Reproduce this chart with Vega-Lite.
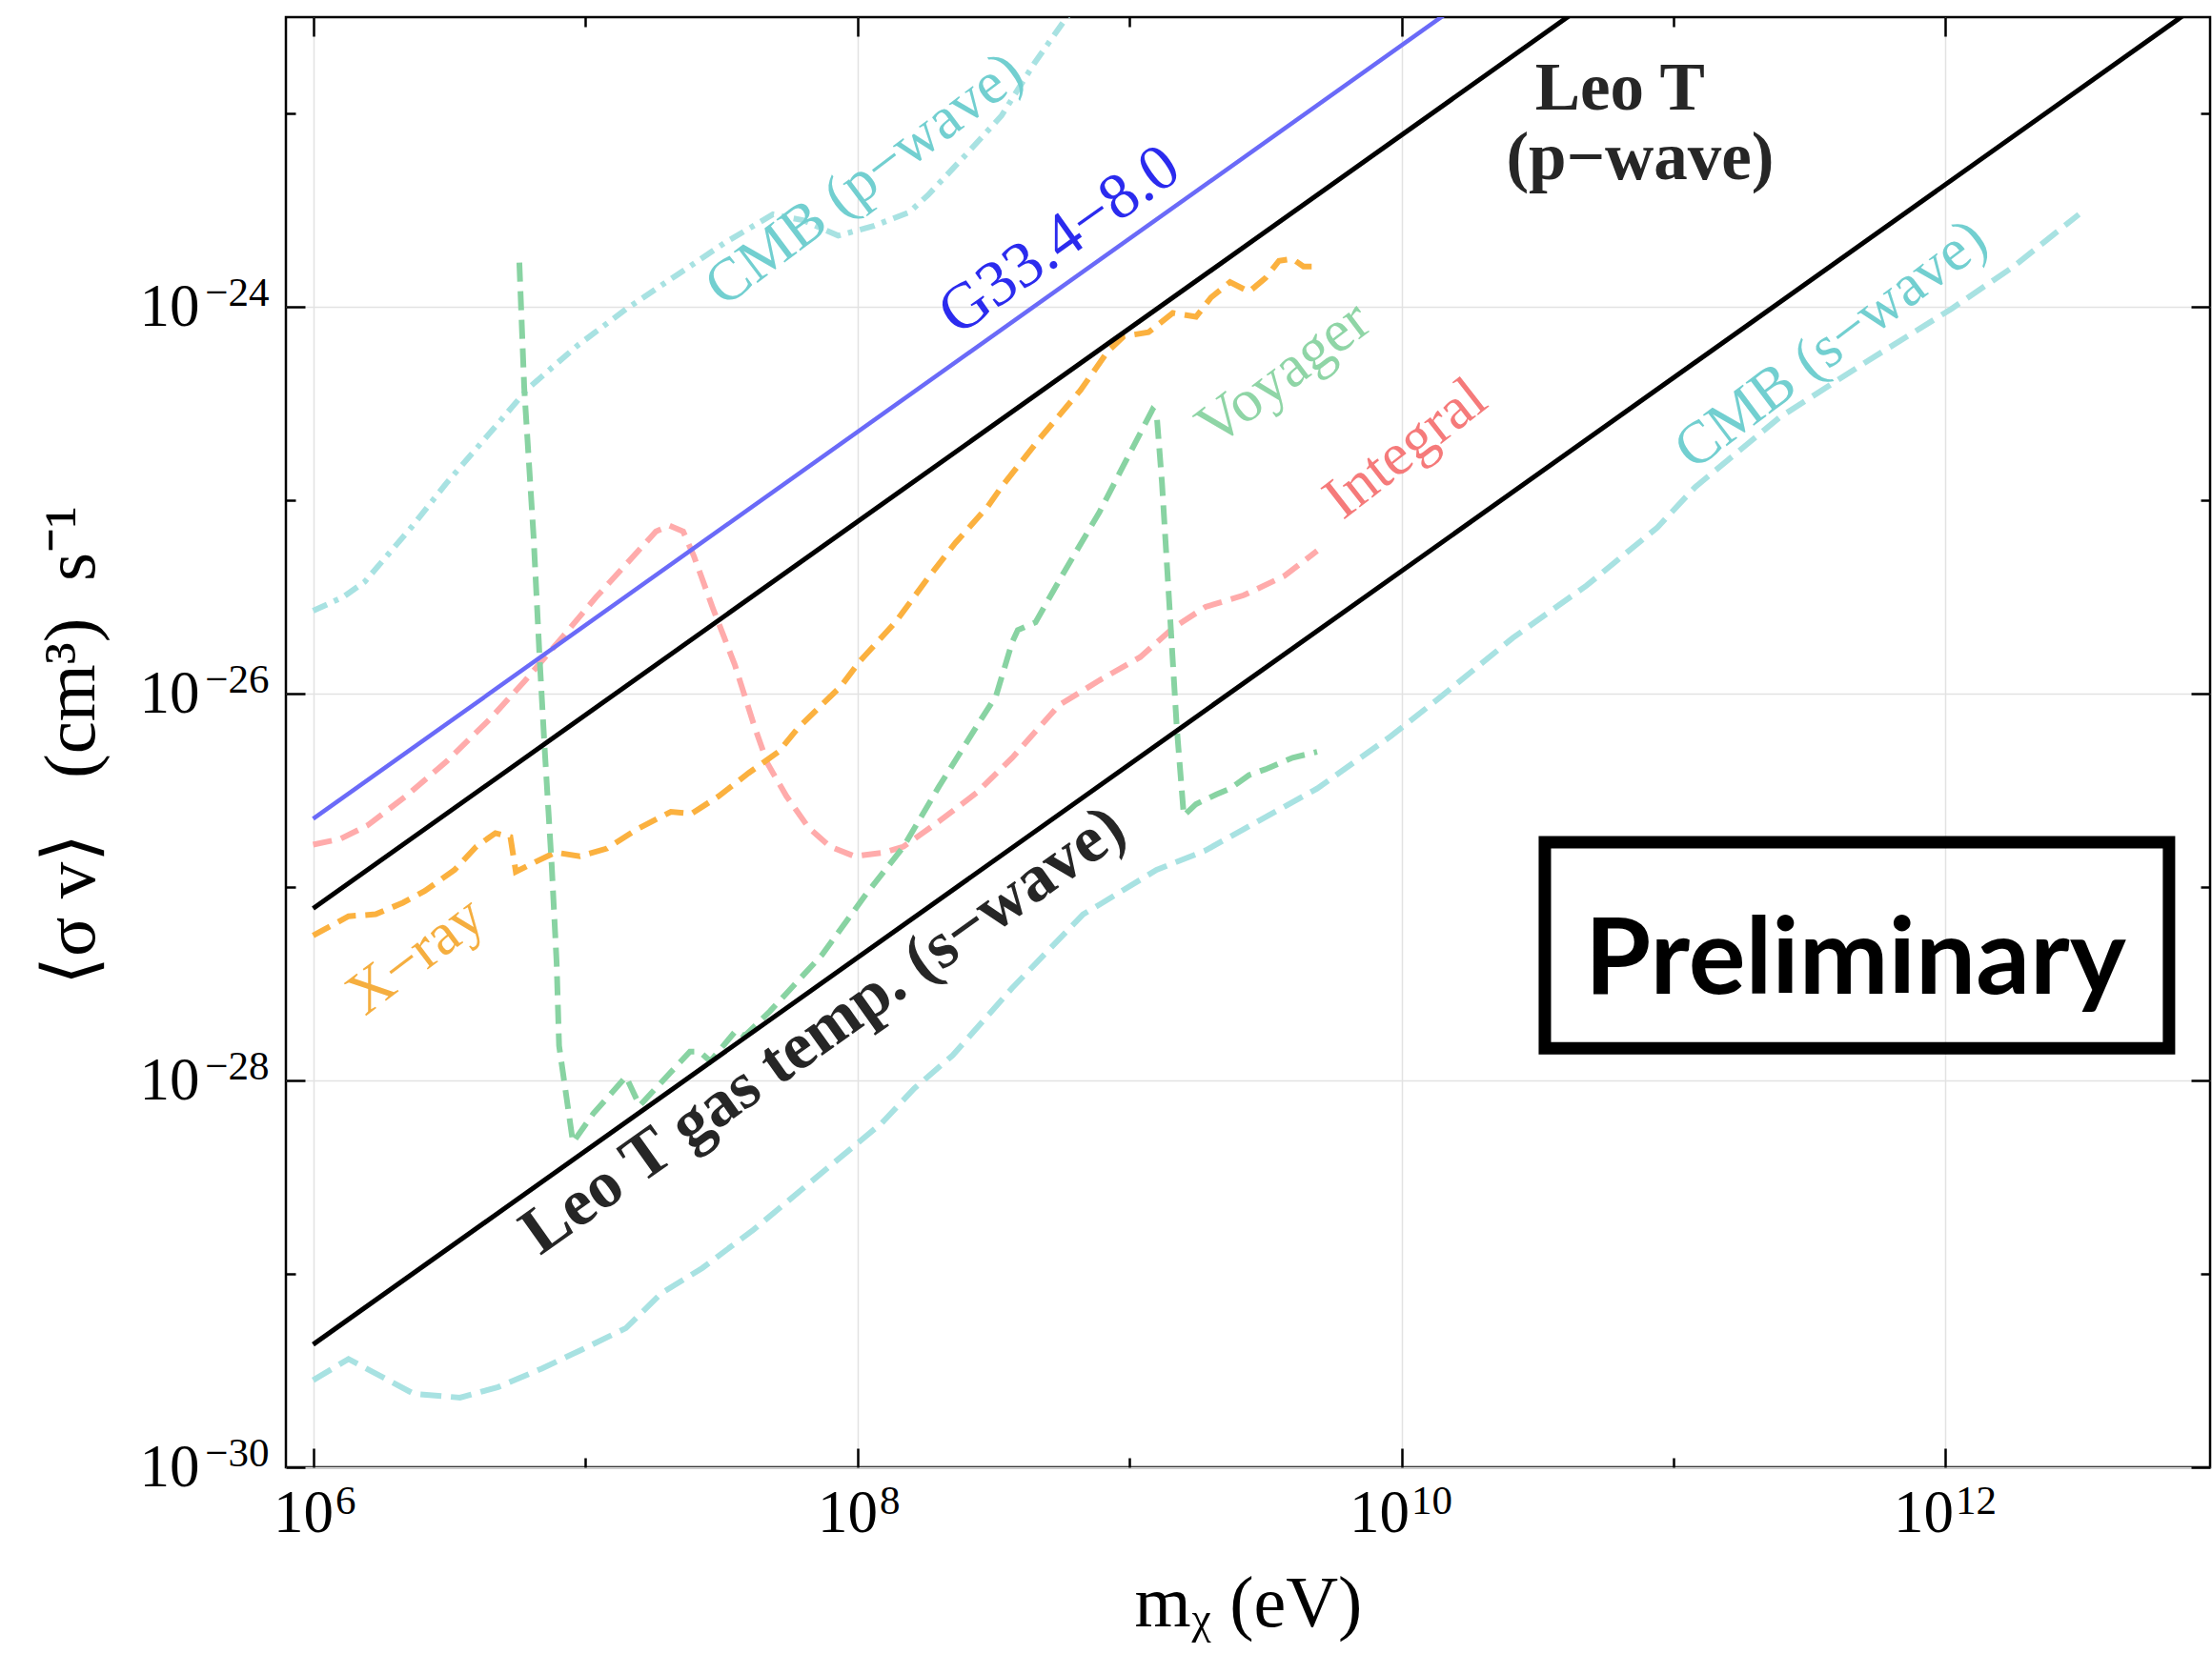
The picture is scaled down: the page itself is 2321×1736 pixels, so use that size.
{
  "$schema": "https://vega.github.io/schema/vega-lite/v6.json",
  "width": 2019,
  "height": 1522,
  "autosize": {"type": "none"},
  "padding": {"left": 300, "top": 18, "right": 2, "bottom": 196},
  "background": "white",
  "config": {"view": {"stroke": "#000", "strokeWidth": 2.5}, "font": "Liberation Serif"},
  "datasets": {
    "cmb_s": [
      {"m": 1e6, "sv": 2.818e-30}, {"m": 1.349e6, "sv": 3.631e-30}, {"m": 2.344e6, "sv": 2.399e-30},
      {"m": 3.467e6, "sv": 2.291e-30}, {"m": 4.786e6, "sv": 2.6e-30}, {"m": 6.918e6, "sv": 3.236e-30},
      {"m": 9.772e6, "sv": 4.074e-30}, {"m": 1.413e7, "sv": 5.248e-30}, {"m": 1.905e7, "sv": 7.943e-30},
      {"m": 2.692e7, "sv": 1.072e-29}, {"m": 4.169e7, "sv": 1.698e-29}, {"m": 7.079e7, "sv": 3.162e-29},
      {"m": 1.23e8, "sv": 6.026e-29}, {"m": 1.622e8, "sv": 9.12e-29}, {"m": 2.239e8, "sv": 1.349e-28},
      {"m": 3.715e8, "sv": 3.02e-28}, {"m": 6.761e8, "sv": 7.244e-28}, {"m": 7.762e8, "sv": 8.128e-28},
      {"m": 1.259e9, "sv": 1.23e-27}, {"m": 1.905e9, "sv": 1.549e-27}, {"m": 2.63e9, "sv": 1.995e-27},
      {"m": 4.898e9, "sv": 3.236e-27}, {"m": 9.12e9, "sv": 6.026e-27}, {"m": 1.38e10, "sv": 9.55e-27},
      {"m": 2.57e10, "sv": 1.95e-26}, {"m": 4.786e10, "sv": 3.631e-26}, {"m": 8.71e10, "sv": 7.244e-26},
      {"m": 1.202e11, "sv": 1.175e-25}, {"m": 2.455e11, "sv": 2.692e-25}, {"m": 5.012e11, "sv": 5.129e-25},
      {"m": 1.047e12, "sv": 9.772e-25}, {"m": 1.778e12, "sv": 1.622e-24}, {"m": 3.09e12, "sv": 3.02e-24}
    ],
    "cmb_p": [
      {"m": 1e6, "sv": 2.692e-26}, {"m": 1.288e6, "sv": 3.162e-26}, {"m": 1.549e6, "sv": 3.802e-26},
      {"m": 2.291e6, "sv": 7.244e-26}, {"m": 3.09e6, "sv": 1.23e-25}, {"m": 4.467e6, "sv": 2.239e-25},
      {"m": 6.166e6, "sv": 3.802e-25}, {"m": 9.333e6, "sv": 6.31e-25}, {"m": 1.413e7, "sv": 9.772e-25},
      {"m": 2.138e7, "sv": 1.445e-24}, {"m": 3.236e7, "sv": 2.138e-24}, {"m": 4.898e7, "sv": 3.02e-24},
      {"m": 6.31e7, "sv": 2.818e-24}, {"m": 8.511e7, "sv": 2.344e-24}, {"m": 1.148e8, "sv": 2.63e-24},
      {"m": 1.549e8, "sv": 3.09e-24}, {"m": 1.82e8, "sv": 3.802e-24}, {"m": 2.512e8, "sv": 6.166e-24},
      {"m": 3.388e8, "sv": 9.772e-24}, {"m": 4.467e8, "sv": 1.82e-23}, {"m": 5.012e8, "sv": 2.291e-23},
      {"m": 6.31e8, "sv": 3.631e-23}
    ],
    "integral": [
      {"m": 1e6, "sv": 1.66e-27}, {"m": 1.259e6, "sv": 1.778e-27}, {"m": 1.585e6, "sv": 2.089e-27},
      {"m": 2.188e6, "sv": 2.951e-27}, {"m": 3.09e6, "sv": 4.467e-27}, {"m": 4.467e6, "sv": 7.413e-27},
      {"m": 6.026e6, "sv": 1.175e-26}, {"m": 8.318e6, "sv": 1.995e-26}, {"m": 1.096e7, "sv": 3.162e-26},
      {"m": 1.413e7, "sv": 4.677e-26}, {"m": 1.82e7, "sv": 6.918e-26}, {"m": 2.042e7, "sv": 7.413e-26},
      {"m": 2.291e7, "sv": 6.918e-26}, {"m": 2.512e7, "sv": 5.129e-26}, {"m": 2.951e7, "sv": 2.754e-26},
      {"m": 3.548e7, "sv": 1.413e-26}, {"m": 4.169e7, "sv": 6.918e-27}, {"m": 4.677e7, "sv": 4.365e-27},
      {"m": 5.495e7, "sv": 2.951e-27}, {"m": 6.607e7, "sv": 2.042e-27}, {"m": 7.943e7, "sv": 1.622e-27},
      {"m": 9.772e7, "sv": 1.445e-27}, {"m": 1.259e8, "sv": 1.514e-27}, {"m": 1.479e8, "sv": 1.622e-27},
      {"m": 1.995e8, "sv": 2.188e-27}, {"m": 2.754e8, "sv": 3.09e-27}, {"m": 3.715e8, "sv": 4.677e-27},
      {"m": 5.495e8, "sv": 8.71e-27}, {"m": 7.762e8, "sv": 1.175e-26}, {"m": 1.096e9, "sv": 1.549e-26},
      {"m": 1.445e9, "sv": 2.188e-26}, {"m": 1.905e9, "sv": 2.818e-26}, {"m": 2.63e9, "sv": 3.236e-26},
      {"m": 3.715e9, "sv": 4.074e-26}, {"m": 4.898e9, "sv": 5.495e-26}
    ],
    "xray": [
      {"m": 1e6, "sv": 5.623e-28}, {"m": 1.349e6, "sv": 7.079e-28}, {"m": 1.698e6, "sv": 7.244e-28},
      {"m": 2.138e6, "sv": 8.318e-28}, {"m": 2.57e6, "sv": 9.55e-28}, {"m": 3.311e6, "sv": 1.23e-27},
      {"m": 3.981e6, "sv": 1.622e-27}, {"m": 4.677e6, "sv": 1.905e-27}, {"m": 5.309e6, "sv": 1.82e-27},
      {"m": 5.559e6, "sv": 1.202e-27}, {"m": 6.761e6, "sv": 1.38e-27}, {"m": 7.762e6, "sv": 1.514e-27},
      {"m": 9.55e6, "sv": 1.445e-27}, {"m": 1.202e7, "sv": 1.585e-27}, {"m": 1.549e7, "sv": 1.995e-27},
      {"m": 2.065e7, "sv": 2.455e-27}, {"m": 2.455e7, "sv": 2.399e-27}, {"m": 3.09e7, "sv": 2.951e-27},
      {"m": 3.981e7, "sv": 3.89e-27}, {"m": 5.129e7, "sv": 5.012e-27}, {"m": 6.026e7, "sv": 6.607e-27},
      {"m": 8.71e7, "sv": 1.096e-26}, {"m": 1.023e8, "sv": 1.479e-26}, {"m": 1.38e8, "sv": 2.344e-26},
      {"m": 1.82e8, "sv": 3.981e-26}, {"m": 2.291e8, "sv": 6.026e-26}, {"m": 3.02e8, "sv": 9.333e-26},
      {"m": 3.388e8, "sv": 1.175e-25}, {"m": 4.677e8, "sv": 2.089e-25}, {"m": 6.607e8, "sv": 3.715e-25},
      {"m": 8.318e8, "sv": 5.888e-25}, {"m": 9.55e8, "sv": 7.079e-25}, {"m": 1.175e9, "sv": 7.413e-25},
      {"m": 1.445e9, "sv": 9.333e-25}, {"m": 1.758e9, "sv": 8.913e-25}, {"m": 1.995e9, "sv": 1.122e-24},
      {"m": 2.344e9, "sv": 1.349e-24}, {"m": 2.754e9, "sv": 1.202e-24}, {"m": 3.162e9, "sv": 1.413e-24},
      {"m": 3.548e9, "sv": 1.738e-24}, {"m": 3.981e9, "sv": 1.778e-24}, {"m": 4.365e9, "sv": 1.622e-24},
      {"m": 4.677e9, "sv": 1.622e-24}
    ],
    "voyager": [
      {"m": 5.728e6, "sv": 1.698e-24}, {"m": 5.97e6, "sv": 3.802e-25}, {"m": 6.457e6, "sv": 6.607e-26},
      {"m": 6.808e6, "sv": 1.479e-26}, {"m": 7.079e6, "sv": 5.495e-27}, {"m": 7.534e6, "sv": 1.288e-27},
      {"m": 7.852e6, "sv": 4.074e-28}, {"m": 8.017e6, "sv": 1.514e-28}, {"m": 9.016e6, "sv": 4.786e-29},
      {"m": 1.072e7, "sv": 6.761e-29}, {"m": 1.413e7, "sv": 1.047e-28}, {"m": 1.585e7, "sv": 7.413e-29},
      {"m": 2.427e7, "sv": 1.413e-28}, {"m": 2.63e7, "sv": 1.413e-28}, {"m": 2.884e7, "sv": 1.259e-28},
      {"m": 3.589e7, "sv": 1.82e-28}, {"m": 3.846e7, "sv": 1.698e-28}, {"m": 4.786e7, "sv": 2.291e-28},
      {"m": 7.413e7, "sv": 4.467e-28}, {"m": 1.072e8, "sv": 9.12e-28}, {"m": 1.479e8, "sv": 1.622e-27},
      {"m": 1.995e8, "sv": 3.311e-27}, {"m": 2.63e8, "sv": 6.166e-27}, {"m": 3.236e8, "sv": 9.772e-27},
      {"m": 3.715e8, "sv": 1.862e-26}, {"m": 3.89e8, "sv": 2.138e-26}, {"m": 4.519e8, "sv": 2.344e-26},
      {"m": 5.754e8, "sv": 4.266e-26}, {"m": 7.762e8, "sv": 8.71e-26}, {"m": 1e9, "sv": 1.738e-25},
      {"m": 1.216e9, "sv": 2.951e-25}, {"m": 1.259e9, "sv": 2.818e-25}, {"m": 1.318e9, "sv": 1.23e-25},
      {"m": 1.403e9, "sv": 2.884e-26}, {"m": 1.493e9, "sv": 6.761e-27}, {"m": 1.585e9, "sv": 2.344e-27},
      {"m": 1.758e9, "sv": 2.692e-27}, {"m": 2.089e9, "sv": 3.02e-27}, {"m": 2.344e9, "sv": 3.236e-27},
      {"m": 2.754e9, "sv": 3.802e-27}, {"m": 3.162e9, "sv": 4.074e-27}, {"m": 3.981e9, "sv": 4.677e-27},
      {"m": 4.898e9, "sv": 5.012e-27}
    ],
    "g33": [{"m": 1e6, "sv": 2.259e-27}, {"m": 1.995e10, "sv": 4.508e-23}],
    "leo_p": [{"m": 1e6, "sv": 7.762e-28}, {"m": 6.31e10, "sv": 4.898e-23}],
    "leo_s": [{"m": 1e6, "sv": 4.315e-30}, {"m": 1e13, "sv": 4.315e-23}],
    "box": [{"m": 3.365e10, "m2": 6.622e12, "sv": 1.706e-27, "sv2": 1.469e-28}],
    "labels": [
      {"id": "leoT1", "label": "Leo T", "m": 6.353e10, "sv": 1.057e-23},
      {"id": "leoT2", "label": "(p−wave)", "m": 7.534e10, "sv": 4.613e-24},
      {"id": "leoS", "label": "Leo T gas temp. (s−wave)", "m": 7.499e7, "sv": 1.82e-28},
      {"id": "g33", "label": "G33.4−8.0", "m": 5.546e8, "sv": 2.208e-24},
      {"id": "cmbp", "label": "CMB (p−wave)", "m": 1.062e8, "sv": 4.571e-24},
      {"id": "cmbs", "label": "CMB (s−wave)", "m": 3.793e11, "sv": 6.397e-25},
      {"id": "voy", "label": "Voyager", "m": 3.69e9, "sv": 4.539e-25},
      {"id": "int", "label": "Integral", "m": 1.033e10, "sv": 1.849e-25},
      {"id": "xray", "label": "X−ray", "m": 2.382e6, "sv": 4.416e-28},
      {"id": "prelim", "label": "Preliminary", "m": 4.667e11, "sv": 2.805e-28}
    ]
  },
  "encoding": {
    "x": {"field": "m", "type": "quantitative", "scale": {"type": "log", "domain": [794328, 9.376e12], "nice": false}, "axis": null},
    "y": {"field": "sv", "type": "quantitative", "scale": {"type": "log", "domain": [1e-30, 3.162e-23], "nice": false}, "axis": null}
  },
  "layer": [
    {
      "data": {"name": "cmb_s"},
      "mark": {"type": "line", "color": "#a8e2e2", "strokeWidth": 6, "strokeDash": [22, 10], "clip": true},
      "encoding": {
        "x": {"field": "m", "type": "quantitative", "scale": {"type": "log", "domain": [794328, 9.376e12], "nice": false},
          "axis": {
            "orient": "bottom", "values": [1e6, 1e7, 1e8, 1e9, 1e10, 1e11, 1e12], "domain": false,
            "grid": true, "gridColor": "#e2e2e2", "gridWidth": 1.5,
            "gridOpacity": {"condition": {"test": "abs(round(log(datum.value)/LN10)) % 2 == 0", "value": 1}, "value": 0},
            "ticks": true, "tickColor": "#000", "tickWidth": 2.5,
            "tickSize": {"condition": {"test": "abs(round(log(datum.value)/LN10)) % 2 == 0", "value": -20}, "value": -10},
            "labelExpr": "abs(round(log(datum.value)/LN10)) % 2 == 0 ? '10' : ''",
            "labelFont": "Liberation Serif", "labelFontSize": 63, "labelColor": "#000",
            "labelAlign": "right", "labelBaseline": "alphabetic", "labelPadding": 87,
            "labelOffset": {"condition": {"test": "datum.value > 5e9", "value": 8}, "value": 21},
            "labelOverlap": false, "labelFlush": false,
            "title": "mᵪ (eV)", "titleFont": "Liberation Serif", "titleFontSize": 76, "titleFontWeight": "normal",
            "titleColor": "#000", "titleBaseline": "alphabetic", "titleY": 166
          }
        },
        "y": {"field": "sv", "type": "quantitative", "scale": {"type": "log", "domain": [1e-30, 3.162e-23], "nice": false},
          "axis": {
            "orient": "left", "values": [1e-30, 1e-29, 1e-28, 1e-27, 1e-26, 1e-25, 1e-24, 1e-23], "domain": false,
            "grid": true, "gridColor": "#e2e2e2", "gridWidth": 1.5,
            "gridOpacity": {"condition": {"test": "abs(round(log(datum.value)/LN10)) % 2 == 0", "value": 1}, "value": 0},
            "ticks": true, "tickColor": "#000", "tickWidth": 2.5,
            "tickSize": {"condition": {"test": "abs(round(log(datum.value)/LN10)) % 2 == 0", "value": -20}, "value": -10},
            "labelExpr": "abs(round(log(datum.value)/LN10)) % 2 == 0 ? '10' : ''",
            "labelFont": "Liberation Serif", "labelFontSize": 63, "labelColor": "#000",
            "labelAlign": "right", "labelBaseline": "middle", "labelPadding": 111,
            "labelOverlap": false, "labelFlush": false,
            "title": "⟨σ v⟩\u00a0\u00a0\u00a0(cm³)\u00a0\u00a0s⁻¹", "titleFont": "Liberation Serif", "titleFontSize": 77, "titleFontWeight": "normal",
            "titleColor": "#000", "titleAngle": 270, "titleBaseline": "alphabetic", "titleX": -202, "titleY": 764
          }
        }
      }
    },
    {
      "data": {"name": "cmb_p"},
      "mark": {"type": "line", "color": "#a8e2e2", "strokeWidth": 6, "strokeDash": [16, 8, 5, 8], "clip": true},
      "encoding": {
        "x": {"field": "m", "type": "quantitative", "scale": {"type": "log", "domain": [794328, 9.376e12], "nice": false},
          "axis": {
            "orient": "top", "values": [1e6, 1e7, 1e8, 1e9, 1e10, 1e11, 1e12], "domain": false, "grid": false,
            "labels": false, "title": null, "ticks": true, "tickColor": "#000", "tickWidth": 2.5,
            "tickSize": {"condition": {"test": "abs(round(log(datum.value)/LN10)) % 2 == 0", "value": -20}, "value": -10}
          }
        },
        "y": {"field": "sv", "type": "quantitative", "scale": {"type": "log", "domain": [1e-30, 3.162e-23], "nice": false},
          "axis": {
            "orient": "right", "values": [1e-30, 1e-29, 1e-28, 1e-27, 1e-26, 1e-25, 1e-24, 1e-23], "domain": false, "grid": false,
            "labels": false, "title": null, "ticks": true, "tickColor": "#000", "tickWidth": 2.5,
            "tickSize": {"condition": {"test": "abs(round(log(datum.value)/LN10)) % 2 == 0", "value": -20}, "value": -10}
          }
        }
      }
    },
    {
      "data": {"name": "integral"},
      "mark": {"type": "line", "color": "#ffabab", "strokeWidth": 6, "strokeDash": [20, 10], "clip": true},
      "encoding": {
        "x": {"field": "m", "type": "quantitative", "scale": {"type": "log", "domain": [794328, 9.376e12], "nice": false},
          "axis": {
            "orient": "bottom", "values": [1e6, 1e7, 1e8, 1e9, 1e10, 1e11, 1e12], "domain": false, "grid": false,
            "ticks": true, "tickOpacity": 0,
            "tickSize": {"condition": {"test": "abs(round(log(datum.value)/LN10)) % 2 == 0", "value": -20}, "value": -10},
            "labelExpr": "abs(round(log(datum.value)/LN10)) % 2 == 0 ? ('' + round(log(datum.value)/LN10)) : ''",
            "labelFont": "Liberation Serif", "labelFontSize": 43, "labelColor": "#000",
            "labelAlign": "left", "labelBaseline": "alphabetic", "labelPadding": 68,
            "labelOffset": {"condition": {"test": "datum.value > 5e9", "value": 10}, "value": 23},
            "labelOverlap": false, "labelFlush": false, "title": null
          }
        },
        "y": {"field": "sv", "type": "quantitative", "scale": {"type": "log", "domain": [1e-30, 3.162e-23], "nice": false},
          "axis": {
            "orient": "left", "values": [1e-30, 1e-29, 1e-28, 1e-27, 1e-26, 1e-25, 1e-24, 1e-23], "domain": false, "grid": false,
            "ticks": true, "tickOpacity": 0,
            "tickSize": {"condition": {"test": "abs(round(log(datum.value)/LN10)) % 2 == 0", "value": -20}, "value": -10},
            "labelExpr": "abs(round(log(datum.value)/LN10)) % 2 == 0 ? ('−' + abs(round(log(datum.value)/LN10))) : ''",
            "labelFont": "Liberation Serif", "labelFontSize": 43, "labelColor": "#000",
            "labelAlign": "right", "labelBaseline": "alphabetic", "labelPadding": 38, "labelOffset": -2,
            "labelOverlap": false, "labelFlush": false, "title": null
          }
        }
      }
    },
    {"data": {"name": "xray"}, "mark": {"type": "line", "color": "#fbb13f", "strokeWidth": 6, "strokeDash": [20, 10], "clip": true}},
    {"data": {"name": "voyager"}, "mark": {"type": "line", "color": "#88d3a2", "strokeWidth": 6, "strokeDash": [20, 10], "clip": true}},
    {"data": {"name": "g33"}, "mark": {"type": "line", "color": "#6a6af8", "strokeWidth": 4.5, "clip": true}},
    {"data": {"name": "leo_p"}, "mark": {"type": "line", "color": "#000", "strokeWidth": 5, "clip": true}},
    {"data": {"name": "leo_s"}, "mark": {"type": "line", "color": "#000", "strokeWidth": 5, "clip": true}},
    {
      "data": {"name": "box"},
      "mark": {"type": "rect", "filled": false, "stroke": "#000", "strokeWidth": 13},
      "encoding": {"x2": {"field": "m2"}, "y2": {"field": "sv2"}}
    },
    {
      "data": {"name": "labels"}, "transform": [{"filter": "datum.id == 'leoT1' || datum.id == 'leoT2'"}],
      "mark": {"type": "text", "font": "Liberation Serif", "fontSize": 71, "fontWeight": "bold", "color": "#262626", "align": "center", "baseline": "alphabetic"},
      "encoding": {"text": {"field": "label"}}
    },
    {
      "data": {"name": "labels"}, "transform": [{"filter": "datum.id == 'leoS'"}],
      "mark": {"type": "text", "font": "Liberation Serif", "fontSize": 70, "fontWeight": "bold", "color": "#262626", "align": "center", "baseline": "middle", "angle": 324.6},
      "encoding": {"text": {"field": "label"}}
    },
    {
      "data": {"name": "labels"}, "transform": [{"filter": "datum.id == 'g33'"}],
      "mark": {"type": "text", "font": "Liberation Serif", "fontSize": 68, "color": "#2b2bee", "align": "center", "baseline": "middle", "angle": 324.6},
      "encoding": {"text": {"field": "label"}}
    },
    {
      "data": {"name": "labels"}, "transform": [{"filter": "datum.id == 'cmbp' || datum.id == 'cmbs'"}],
      "mark": {"type": "text", "font": "Liberation Serif", "fontSize": 63, "color": "#72cfd0", "align": "center", "baseline": "middle", "angle": 323},
      "encoding": {"text": {"field": "label"}}
    },
    {
      "data": {"name": "labels"}, "transform": [{"filter": "datum.id == 'voy'"}],
      "mark": {"type": "text", "font": "Liberation Serif", "fontSize": 63, "color": "#8fd5a6", "align": "center", "baseline": "middle", "angle": 323},
      "encoding": {"text": {"field": "label"}}
    },
    {
      "data": {"name": "labels"}, "transform": [{"filter": "datum.id == 'int'"}],
      "mark": {"type": "text", "font": "Liberation Serif", "fontSize": 63, "color": "#f57a7a", "align": "center", "baseline": "middle", "angle": 322},
      "encoding": {"text": {"field": "label"}}
    },
    {
      "data": {"name": "labels"}, "transform": [{"filter": "datum.id == 'xray'"}],
      "mark": {"type": "text", "font": "Liberation Serif", "fontSize": 63, "color": "#f5ae3f", "align": "center", "baseline": "middle", "angle": 323},
      "encoding": {"text": {"field": "label"}}
    },
    {
      "data": {"name": "labels"}, "transform": [{"filter": "datum.id == 'prelim'"}],
      "mark": {"type": "text", "font": "Lato", "fontSize": 112, "fontWeight": "bold", "color": "#000", "align": "center", "baseline": "alphabetic"},
      "encoding": {"text": {"field": "label"}}
    }
  ],
  "resolve": {"axis": {"x": "independent", "y": "independent"}}
}
